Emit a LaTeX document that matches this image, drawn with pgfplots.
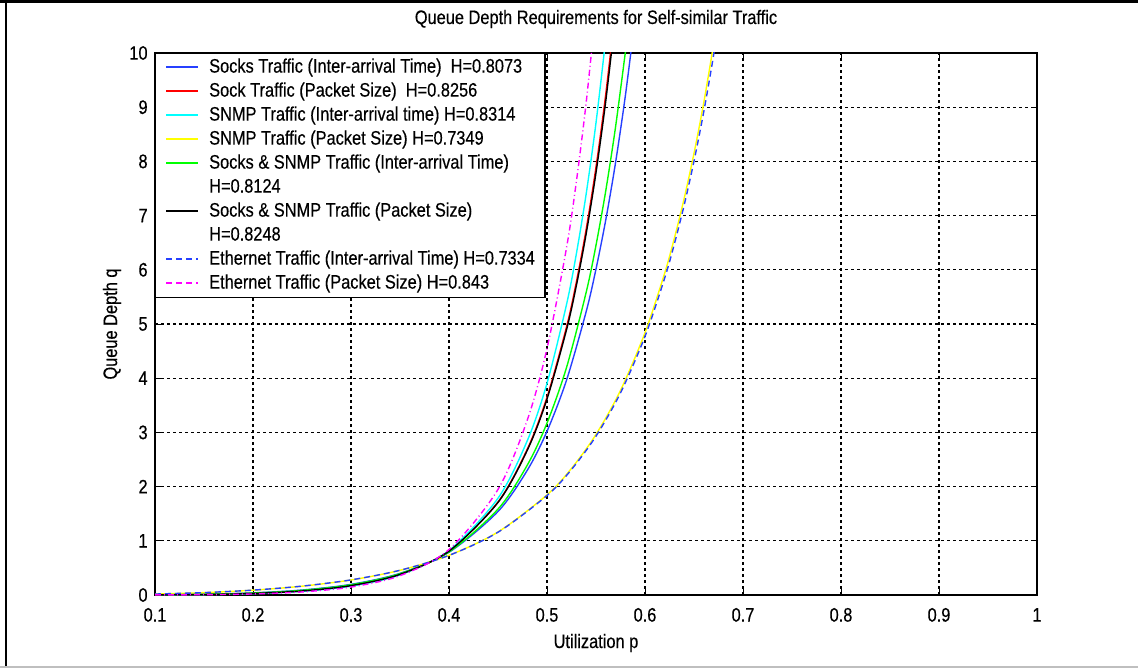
\documentclass[border=0pt]{standalone}
\usepackage{fontspec}
\setmainfont{Liberation Sans}[FakeStretch=0.84, FakeBold=0.3]
\usepackage{pgfplots}
\pgfplotsset{compat=1.18}
\definecolor{mblue}{rgb}{0.15,0.25,1}
\definecolor{mred}{rgb}{1,0,0}
\definecolor{mcyan}{rgb}{0,1,1}
\definecolor{myellow}{rgb}{1,1,0}
\definecolor{mgreen}{rgb}{0,1,0}
\definecolor{mmagenta}{rgb}{1,0,1}
\begin{document}
\fontsize{9.75}{11.9}\selectfont
\begin{tikzpicture}
\path[use as bounding box] (-77.5pt,-37pt) rectangle (491.5pt,297.5pt);
\fill[white] (-77.5pt,-37pt) rectangle (491.5pt,297.5pt);
\begin{axis}[
  at={(0,0)}, anchor=south west, scale only axis,
  width=441pt, height=271pt,
  xmin=0.1, xmax=1, ymin=0, ymax=10,
  xtick={0.1,0.2,0.3,0.4,0.5,0.6,0.7,0.8,0.9,1},
  xticklabels={0.1,0.2,0.3,0.4,0.5,0.6,0.7,0.8,0.9,1},
  ytick={0,1,2,3,4,5,6,7,8,9,10},
  yticklabels={0,1,2,3,4,5,6,7,8,9,10},
  tick align=inside, major tick length=3pt,
  tick style={black, line width=0.5pt},
  axis line style={black, line width=0.6pt},
  grid=major,
  major grid style={black, line width=0.55pt, dash pattern=on 1.5pt off 1.5pt},
  /pgf/number format/assume math mode=true,
  ticklabel style={font=\fontsize{9.75}{11.9}\selectfont},
  xticklabel style={anchor=base, inner sep=0pt, yshift=-13.3pt},
  yticklabel style={anchor=east, inner sep=0pt, xshift=-3.5pt},
  title={Queue Depth Requirements for Self-similar Traffic},
  title style={at={(0.5,1)}, anchor=base, inner sep=0pt, yshift=8.5pt, font=\fontsize{9.75}{11.9}\selectfont},
  xlabel={Utilization p},
  xlabel style={at={(0.5,0)}, anchor=base, inner sep=0pt, yshift=-26.5pt, font=\fontsize{9.75}{11.9}\selectfont},
  ylabel={Queue Depth q},
  ylabel style={at={([xshift=-21.5pt]axis description cs:0,0.5)}, anchor=center, inner sep=0pt, font=\fontsize{9.75}{11.9}\selectfont},
  legend cell align=left,
  legend image code/.code={\draw[#1] (0pt,0.3pt) -- (16pt,0.3pt);},
  legend style={at={(0,1)}, anchor=north west, draw=black, line width=0.6pt, fill=white,
    font=\fontsize{9.75}{11.9}\selectfont,
    inner xsep=5pt, inner ysep=2pt, row sep=2pt, column sep=5pt,
    nodes={inner sep=0pt, text height=7.5pt, text depth=2.5pt}},
  every axis plot/.append style={line width=0.7pt},
]
\addlegendimage{draw=mblue, line width=0.8pt}
\addlegendentry{Socks Traffic (Inter-arrival Time)\ \ H=0.8073}
\addlegendimage{draw=mred, line width=0.8pt}
\addlegendentry{Sock Traffic (Packet Size)\ \ H=0.8256}
\addlegendimage{draw=mcyan, line width=0.8pt}
\addlegendentry{SNMP Traffic (Inter-arrival time) H=0.8314}
\addlegendimage{draw=myellow, line width=0.8pt}
\addlegendentry{SNMP Traffic (Packet Size) H=0.7349}
\addlegendimage{draw=mgreen, line width=0.8pt}
\addlegendentry{Socks \& SNMP Traffic (Inter-arrival Time)}
\addlegendimage{empty legend}
\addlegendentry{H=0.8124}
\addlegendimage{draw=black, line width=0.8pt}
\addlegendentry{Socks \& SNMP Traffic (Packet Size)}
\addlegendimage{empty legend}
\addlegendentry{H=0.8248}
\addlegendimage{draw=mblue, line width=0.8pt, dash pattern=on 3pt off 2pt}
\addlegendentry{Ethernet Traffic (Inter-arrival Time) H=0.7334}
\addlegendimage{draw=mmagenta, line width=0.8pt, dash pattern=on 3pt off 2pt}
\addlegendentry{Ethernet Traffic (Packet Size) H=0.843}
\addplot[color=mblue, smooth, forget plot] coordinates {(0.1,0.00395)(0.15,0.0144)(0.2,0.0391)(0.25,0.0915)(0.3,0.196)(0.35,0.399)(0.4,0.789)(0.45,1.541)(0.48,2.305)(0.5,3.020)(0.52,3.968)(0.54,5.230)(0.55,6.014)(0.56,6.924)(0.57,7.983)(0.58,9.216)(0.59,10.66)};
\addplot[color=mred, smooth, forget plot] coordinates {(0.1,0.00224)(0.15,0.00937)(0.2,0.0285)(0.25,0.0733)(0.3,0.1715)(0.35,0.379)(0.4,0.8116)(0.45,1.717)(0.48,2.695)(0.5,3.648)(0.52,4.951)(0.53,5.778)(0.54,6.750)(0.55,7.894)(0.56,9.246)(0.57,10.84)};
\addplot[color=mcyan, smooth, forget plot] coordinates {(0.1,0.00182)(0.15,0.00803)(0.2,0.0254)(0.25,0.0677)(0.3,0.1634)(0.35,0.372)(0.4,0.820)(0.45,1.786)(0.48,2.852)(0.5,3.905)(0.52,5.366)(0.53,6.299)(0.54,7.403)(0.55,8.711)(0.56,10.27)};
\addplot[color=myellow, smooth, forget plot] coordinates {(0.1,0.0174)(0.15,0.0438)(0.2,0.0892)(0.25,0.1625)(0.3,0.2775)(0.35,0.4557)(0.4,0.7319)(0.45,1.1632)(0.5,1.848)(0.525,2.336)(0.55,2.962)(0.575,3.775)(0.6,4.839)(0.62,5.934)(0.63,6.585)(0.64,7.318)(0.65,8.149)(0.66,9.087)(0.67,10.16)};
\addplot[color=mgreen, smooth, forget plot] coordinates {(0.1,0.00341)(0.15,0.0129)(0.2,0.0360)(0.25,0.0864)(0.3,0.1893)(0.35,0.3936)(0.4,0.7945)(0.45,1.585)(0.48,2.400)(0.5,3.172)(0.52,4.202)(0.54,5.587)(0.55,6.453)(0.56,7.463)(0.57,8.642)(0.58,10.02)};
\addplot[color=black, smooth, forget plot] coordinates {(0.1,0.00230)(0.15,0.00957)(0.2,0.0289)(0.25,0.0743)(0.3,0.1726)(0.35,0.3798)(0.4,0.8105)(0.45,1.708)(0.48,2.675)(0.5,3.615)(0.52,4.899)(0.53,5.712)(0.54,6.668)(0.55,7.791)(0.56,9.119)(0.57,10.69)};
\addplot[color=mblue, smooth, forget plot, dash pattern=on 3pt off 2pt] coordinates {(0.1,0.01779)(0.15,0.0446)(0.2,0.0903)(0.25,0.1639)(0.3,0.2789)(0.35,0.4566)(0.4,0.7310)(0.45,1.1584)(0.5,1.835)(0.525,2.315)(0.55,2.931)(0.575,3.729)(0.6,4.771)(0.62,5.843)(0.63,6.479)(0.64,7.196)(0.65,8.005)(0.66,8.920)(0.67,9.961)(0.68,11.15)};
\addplot[color=mmagenta, smooth, forget plot, dash pattern=on 3pt off 1.5pt on 0.5pt off 1.5pt] coordinates {(0.1,0.00115)(0.15,0.00569)(0.2,0.0197)(0.25,0.0567)(0.3,0.1467)(0.35,0.3569)(0.4,0.8392)(0.45,1.948)(0.48,3.234)(0.5,4.547)(0.52,6.414)(0.53,7.631)(0.54,9.089)(0.55,10.84)};
\end{axis}
\draw[black, line width=1.5pt] (-77.5pt,296.75pt) -- (491.5pt,296.75pt);
\draw[black, line width=1pt] (-74.5pt,-36pt) -- (-74.5pt,297.5pt);
\draw[black!25, line width=0.75pt] (-77.5pt,-36pt) -- (491.5pt,-36pt);
\end{tikzpicture}
\end{document}
